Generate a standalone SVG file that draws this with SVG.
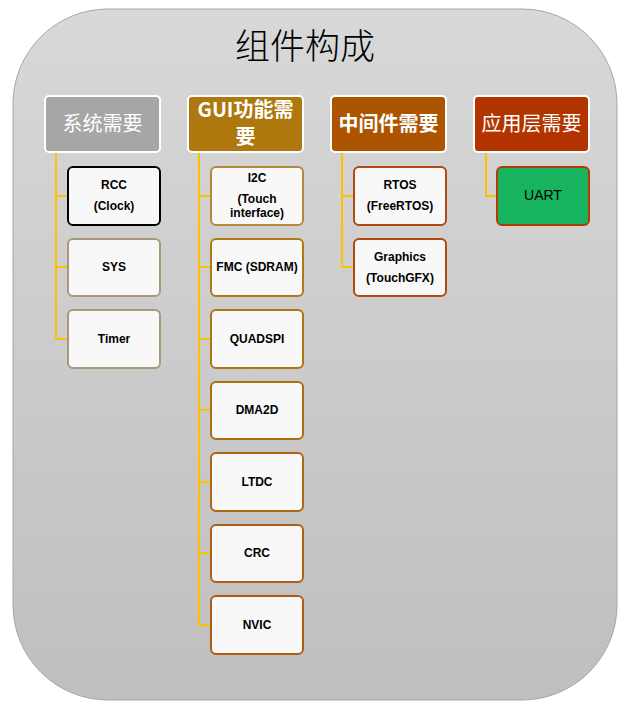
<svg xmlns="http://www.w3.org/2000/svg" width="630" height="711" viewBox="0 0 630 711">
<defs>
<linearGradient id="bg" x1="0" y1="0" x2="0" y2="1">
<stop offset="0" stop-color="#d8d8d8"/>
<stop offset="1" stop-color="#bfbfbf"/>
</linearGradient>
<style>
.hdr{stroke:#ffffff;stroke-width:2}
.ht{font-family:"Noto Sans CJK SC","Liberation Sans",sans-serif;font-size:20px;fill:#ffffff;text-anchor:middle}
.box{fill:#f8f8f8;stroke-width:2}
.bt{font-family:"Liberation Sans","Noto Sans",sans-serif;font-size:12px;font-weight:bold;fill:#000000;text-anchor:middle}
.ln{fill:none;stroke:#ffc000;stroke-width:2}
</style>
</defs>
<rect x="13" y="9" width="604" height="691" rx="95" ry="95" fill="url(#bg)" stroke="#a6a6a6" stroke-width="1"/>
<text x="305" y="59" font-family="Noto Sans CJK SC,sans-serif" font-weight="300" font-size="35" fill="#000000" text-anchor="middle">组件构成</text>

<g id="connectors">
<path class="ln" d="M56 152V339M56 196H68M56 267H68M56 339H68"/>
<path class="ln" d="M199 152V625M199 196H211M199 267H211M199 339H211M199 410H211M199 482H211M199 553H211M199 625H211"/>
<path class="ln" d="M342 152V267M342 196H354M342 267H354"/>
<path class="ln" d="M486 152V196H497"/>
</g>

<g id="h1"><rect class="hdr" x="45" y="96" width="115" height="56" rx="4" fill="#a6a6a6"/><text class="ht" x="102.5" y="131" fill="#eeeeee">系统需要</text></g>
<g id="h2"><rect class="hdr" x="188" y="96" width="115" height="56" rx="4" fill="#ae780e"/><text class="ht" x="245.5" y="117" font-size="19" font-weight="bold">GUI功能需</text><text class="ht" x="245.5" y="144" font-size="19" font-weight="bold">要</text></g>
<g id="h3"><rect class="hdr" x="331" y="96" width="115" height="56" rx="4" fill="#ac5400"/><text class="ht" x="388.5" y="131" font-weight="bold">中间件需要</text></g>
<g id="h4"><rect class="hdr" x="474" y="96" width="115" height="56" rx="4" fill="#b33400"/><text class="ht" x="531.5" y="131">应用层需要</text></g>

<g id="rcc"><rect class="box" x="68" y="167" width="92" height="58" rx="5" stroke="#000000"/><text class="bt" x="114" y="189">RCC</text><text class="bt" x="114" y="210">(Clock)</text></g>
<g id="sys"><rect class="box" x="68" y="239" width="92" height="57" rx="5" stroke="#a89a78"/><text class="bt" x="114" y="271">SYS</text></g>
<g id="timer"><rect class="box" x="68" y="310" width="92" height="58" rx="5" stroke="#a89a78"/><text class="bt" x="114" y="343">Timer</text></g>

<g id="i2c"><rect class="box" x="211" y="167" width="92" height="58" rx="5" stroke="#b48838"/><text class="bt" x="257" y="182">I2C</text><text class="bt" x="257" y="203">(Touch</text><text class="bt" x="257" y="217">interface)</text></g>
<g id="fmc"><rect class="box" x="211" y="239" width="92" height="57" rx="5" stroke="#b07a10"/><text class="bt" x="257" y="271">FMC (SDRAM)</text></g>
<g id="quadspi"><rect class="box" x="211" y="310" width="92" height="58" rx="5" stroke="#b07410"/><text class="bt" x="257" y="343">QUADSPI</text></g>
<g id="dma2d"><rect class="box" x="211" y="382" width="92" height="57" rx="5" stroke="#b06c10"/><text class="bt" x="257" y="414">DMA2D</text></g>
<g id="ltdc"><rect class="box" x="211" y="453" width="92" height="58" rx="5" stroke="#b06610"/><text class="bt" x="257" y="486">LTDC</text></g>
<g id="crc"><rect class="box" x="211" y="525" width="92" height="57" rx="5" stroke="#b06010"/><text class="bt" x="257" y="557">CRC</text></g>
<g id="nvic"><rect class="box" x="211" y="596" width="92" height="58" rx="5" stroke="#b05a10"/><text class="bt" x="257" y="629">NVIC</text></g>

<g id="rtos"><rect class="box" x="354" y="167" width="92" height="58" rx="5" stroke="#b04a10"/><text class="bt" x="400" y="189">RTOS</text><text class="bt" x="400" y="210">(FreeRTOS)</text></g>
<g id="graphics"><rect class="box" x="354" y="239" width="92" height="57" rx="5" stroke="#b04a10"/><text class="bt" x="400" y="261">Graphics</text><text class="bt" x="400" y="282">(TouchGFX)</text></g>

<g id="uart"><rect x="497" y="167" width="92" height="58" rx="5" fill="#17b35e" stroke="#b33a00" stroke-width="2"/><text x="543" y="200" font-family="Liberation Sans,sans-serif" font-size="14" fill="#000000" text-anchor="middle">UART</text></g>
</svg>
